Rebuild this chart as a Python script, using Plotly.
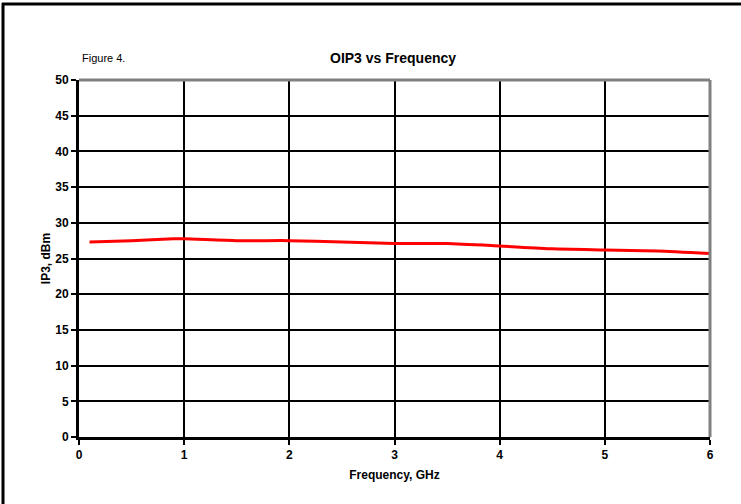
import plotly.graph_objects as go

freq_ghz = [0.1, 0.5, 0.9, 1.0, 1.5, 2.0, 2.5, 3.0, 3.5, 4.0, 4.5, 5.0, 5.5, 6.0]
oip3_dbm = [27.3, 27.5, 27.75, 27.75, 27.5, 27.5, 27.3, 27.1, 27.1, 26.75, 26.35, 26.2, 26.05, 25.7]
x_ticks = [0, 1, 2, 3, 4, 5, 6]
y_ticks = [0, 5, 10, 15, 20, 25, 30, 35, 40, 45, 50]

W, H = 741, 504
L, R, T, B = 79, 31, 80, 67
pw, ph = W - L - R, H - T - B

def px(xp):
    return (xp - L) / pw

def py(yp):
    return (H - B - yp) / ph

fig = go.Figure()
fig.add_trace(go.Scatter(
    x=freq_ghz, y=oip3_dbm, mode="lines",
    line=dict(color="#ff0000", width=3, shape="spline", smoothing=0.6),
    showlegend=False,
))

font = "Liberation Sans, Arial, sans-serif"
axis_common = dict(
    showgrid=True, gridcolor="#000000", gridwidth=2,
    showline=True, linecolor="#000000", linewidth=3,
    ticks="outside", ticklen=5, tickwidth=2, tickcolor="#000000",
    tickfont=dict(family=font, size=12, color="#000000", weight="bold"),
    zeroline=False, fixedrange=True,
)

fig.update_xaxes(range=[0, 6], tickvals=x_ticks, ticktext=[str(v) for v in x_ticks],
                 title=dict(text="<b>Frequency, GHz</b>", font=dict(family=font, size=12, color="#000"), standoff=10),
                 **axis_common)
fig.update_yaxes(range=[0, 50], tickvals=y_ticks, ticktext=[str(v) for v in y_ticks],
                 title=dict(text="<b>IP3, dBm</b>", font=dict(family=font, size=12, color="#000"), standoff=3),
                 **axis_common)

shapes = [
    # gray top and right plot border
    dict(type="line", xref="paper", yref="paper", x0=0, x1=1, y0=1, y1=1,
         line=dict(color="#808080", width=3), layer="above"),
    dict(type="line", xref="paper", yref="paper", x0=1, x1=1, y0=0, y1=1,
         line=dict(color="#808080", width=3), layer="above"),
    # outer frame (top and left)
    dict(type="line", xref="paper", yref="paper", x0=px(2), x1=px(742), y0=py(4), y1=py(4),
         line=dict(color="#000000", width=3)),
    dict(type="line", xref="paper", yref="paper", x0=px(3), x1=px(3), y0=py(3), y1=py(505),
         line=dict(color="#000000", width=3)),
]

annotations = [
    dict(text="<b>OIP3 vs Frequency</b>", xref="paper", yref="paper", x=px(393), y=py(58),
         showarrow=False, font=dict(family=font, size=14, color="#000"), xanchor="center", yanchor="middle"),
    dict(text="Figure 4.", xref="paper", yref="paper", x=px(80), y=py(58),
         showarrow=False, font=dict(family=font, size=11, color="#000"), xanchor="left", yanchor="middle"),
]

fig.update_layout(
    width=W, height=H,
    margin=dict(l=L, r=R, t=T, b=B),
    paper_bgcolor="#ffffff", plot_bgcolor="#ffffff",
    shapes=shapes, annotations=annotations,
    font=dict(family=font, color="#000"),
)

fig.write_html("out.html", config={"displayModeBar": False},
               post_script="document.body.style.margin='0';document.body.style.overflow='hidden';")
